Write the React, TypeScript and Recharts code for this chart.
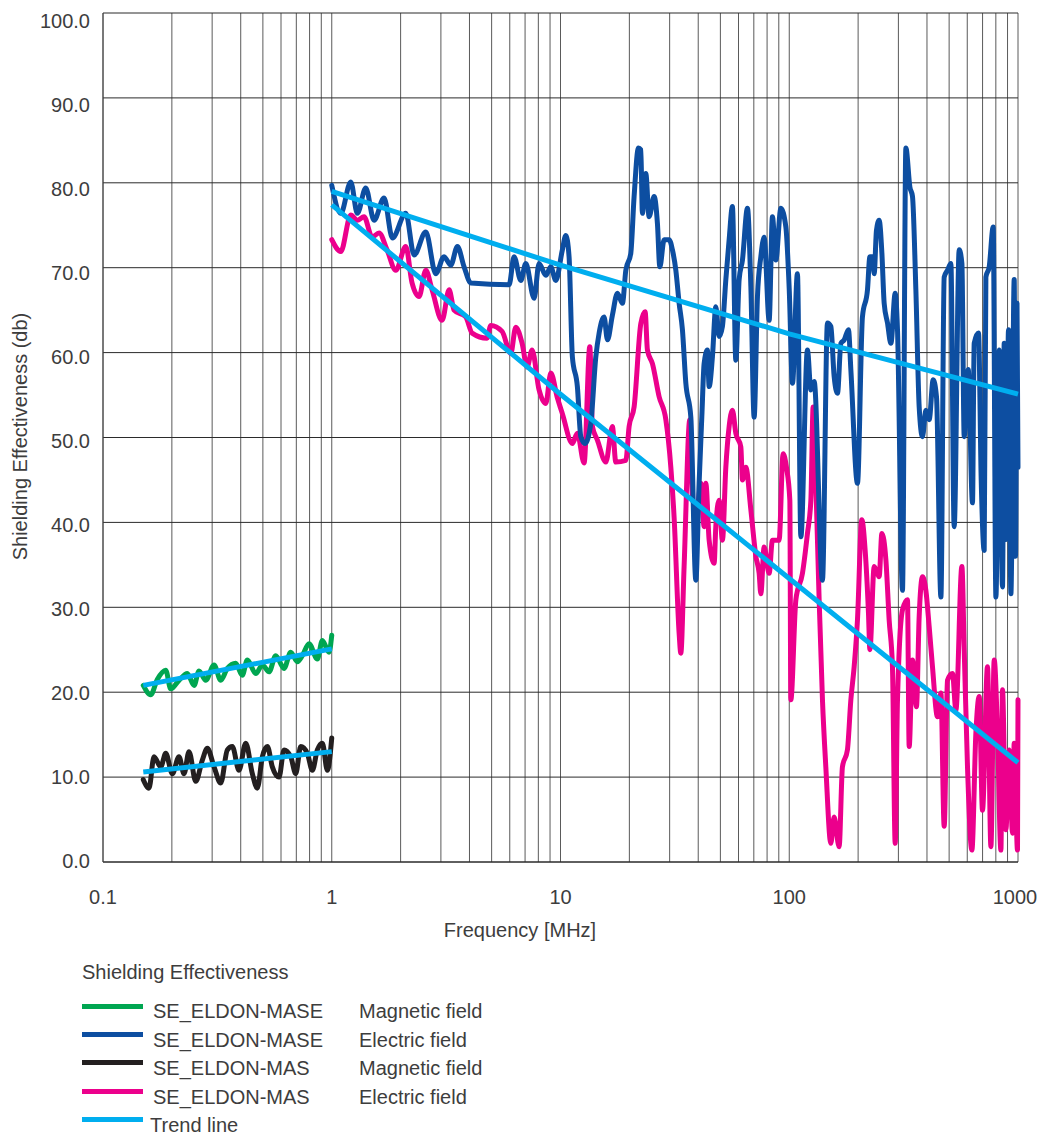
import React, { useLayoutEffect } from 'react';
import { LineChart, Line, XAxis, YAxis, CartesianGrid } from 'recharts';

const FONT = '"Liberation Sans", Arial, Helvetica, sans-serif';
const TEXT = '#3d3d3d';
const GREEN = '#00a651';
const BLUE = '#0d4ea1';
const BLACK = '#231f20';
const MAGENTA = '#ec008c';
const TREND = '#00aeef';

// Axis ticks
const xTicks = [0.1, 0.2, 0.3, 0.4, 0.5, 0.6, 0.7, 0.8, 0.9, 1, 2, 3, 4, 5, 6, 7, 8, 9, 10, 20, 30, 40, 50, 60, 70, 80, 90, 100, 200, 300, 400, 500, 600, 700, 800, 900, 1000];
const xLabelled = [0.1, 1, 10, 100, 1000];
const xLabelText = ['0.1', '1', '10', '100', '1000'];
const yTicks = [0, 10, 20, 30, 40, 50, 60, 70, 80, 90, 100];

// SE_ELDON-MASE, magnetic field
const maseMagF = [0.15, 0.1616, 0.1727, 0.188, 0.1977, 0.2149, 0.2337, 0.25, 0.2629, 0.2812, 0.3058, 0.3271, 0.3495, 0.3804, 0.4065, 0.4276, 0.4653, 0.4973, 0.532, 0.5691, 0.6185, 0.6617, 0.7071, 0.7438, 0.7958, 0.865, 0.9097, 0.973, 1.0];
const maseMagSE = [20.8, 19.7, 21.5, 22.6, 20.4, 21.4, 22.2, 20.8, 22.5, 21.4, 23.2, 21.4, 22.8, 23.4, 22.0, 23.8, 22.2, 23.2, 22.4, 24.3, 22.8, 24.7, 23.6, 24.3, 25.7, 23.9, 26.1, 24.7, 26.7];

// SE_ELDON-MAS, magnetic field
const masMagF = [0.15, 0.1589, 0.1671, 0.1788, 0.188, 0.2009, 0.2149, 0.2261, 0.2377, 0.2543, 0.2718, 0.2858, 0.3058, 0.3271, 0.3495, 0.3676, 0.3932, 0.4207, 0.4496, 0.4728, 0.4973, 0.5229, 0.5499, 0.5883, 0.6185, 0.6617, 0.6958, 0.7318, 0.7822, 0.8226, 0.865, 0.9097, 0.9568, 1.0];
const masMagSE = [9.7, 8.7, 12.4, 11.2, 12.8, 10.4, 12.4, 10.4, 13.0, 9.5, 12.0, 13.4, 11.2, 9.3, 13.2, 13.6, 10.8, 14.0, 10.4, 8.7, 12.4, 13.6, 11.2, 10.0, 13.2, 12.4, 10.4, 13.6, 12.8, 10.8, 13.2, 14.0, 10.8, 14.6];

// SE_ELDON-MASE, electric field
const maseElF = [1.0, 1.095, 1.211, 1.294, 1.408, 1.531, 1.693, 1.841, 2.107, 2.291, 2.577, 2.849, 3.097, 3.314, 3.541, 3.789, 4.054, 5.961, 6.268, 6.706, 7.052, 7.665, 8.06, 8.626, 9.07, 9.537,
  10.19, 10.55, 10.9, 11.27, 11.85, 12.27, 12.81, 13.57, 14.27, 14.75, 15.51, 16.04, 16.86, 17.74, 18.65, 19.3, 20.29, 20.98, 21.91, 22.44, 22.81, 23.6, 24.4, 25.66, 26.53, 27.18, 28.38, 29.85, 30.85, 31.93, 33.01, 34.12, 35.31, 37.13, 39.05, 40.36, 41.47, 42.45, 43.88, 44.65, 46.15, 47.75, 49.37, 51.04, 52.82, 54.6, 56.44, 58.41, 60.39, 62.43, 65.65, 67.94, 70.23, 72.61, 75.13, 77.67, 81.68, 84.44, 87.38, 91.9, 96.63,
  100, 103.3, 108.6, 112.4, 120.1, 124.3, 128.5, 139.7, 146.9, 152.0, 157.1, 162.5, 168.2, 173.9, 181.5, 185.9, 198.7, 208.9, 219.8, 225.2, 231.1, 235.1, 240.6, 247.2, 254.1, 260.0, 268.8, 278.2, 290.5, 297.3, 312.6, 323.5, 336.8, 345.7, 357.7, 369.8, 382.3, 395.6, 409.0, 425.8, 440.2, 460.2, 475.7, 491.7, 508.8, 526.0, 553.3, 568.5, 581.9, 605.8, 632.4, 643.4, 672.0, 690.5, 711.6, 723.8, 748.4, 779.1, 800.6, 827.6, 855.5, 870.4, 887.8, 908.8, 931.1, 962.5, 975, 990, 1000];
const maseElSE = [79.7, 76.4, 80.1, 76.4, 79.4, 75.6, 78.2, 73.5, 76.4, 71.5, 74.2, 69.3, 71.3, 70.3, 72.5, 70.1, 68.2, 68.0, 71.3, 68.5, 70.5, 66.4, 70.5, 69.1, 70.1, 68.5,
  72.1, 73.8, 71.3, 59.5, 56.0, 50.1, 49.3, 51.7, 59.5, 62.3, 64.2, 61.5, 64.4, 67.0, 65.8, 69.7, 71.7, 78.4, 84.1, 83.9, 76.4, 81.1, 76.0, 78.4, 75.2, 70.1, 73.3, 73.3, 72.1, 69.7, 65.8, 62.7, 56.4, 52.4, 33.2, 44.6, 52.4, 58.7, 60.3, 56.0, 59.5, 65.4, 61.9, 63.1, 68.6, 73.3, 77.2, 59.1, 68.6, 70.9, 77.0, 67.8, 52.4, 66.6, 71.3, 73.6, 63.8, 76.0, 70.9, 77.0, 74.8,
  67.4, 56.4, 69.3, 38.3, 60.3, 55.6, 56.6, 33.2, 63.5, 63.1, 57.2, 55.2, 61.1, 61.5, 62.7, 58.0, 44.6, 64.2, 67.4, 71.3, 71.3, 69.3, 74.4, 75.6, 71.7, 65.8, 63.5, 61.1, 67.0, 62.7, 32.0, 84.1, 79.5, 78.4, 67.4, 53.6, 50.1, 53.2, 52.1, 56.8, 54.8, 31.2, 68.9, 69.7, 70.5, 39.5, 72.1, 70.5, 50.1, 58.0, 42.3, 61.1, 62.3, 45.0, 36.7, 68.9, 70.1, 74.8, 31.2, 60.3, 32.4, 61.1, 38.0, 62.7, 31.6, 68.6, 36.0, 65.8, 46.5];

// SE_ELDON-MAS, electric field
const masElF = [1.0, 1.095, 1.211, 1.294, 1.384, 1.501, 1.61, 1.745, 1.905, 2.107, 2.244, 2.408, 2.577, 2.745, 3.036, 3.259, 3.426, 3.854, 4.106, 4.775, 4.957, 5.554, 6.062, 6.375, 6.794, 7.145, 7.513, 8.06, 8.626, 9.07, 9.663,
  10.19, 11.27, 11.85, 12.68, 13.43, 13.79, 14.5, 15.78, 16.86, 17.45, 19.3, 19.95, 20.98, 22.44, 23.44, 23.99, 25.23, 26.99, 28.87, 30.36, 31.38, 33.01, 33.57, 34.7, 36.76, 37.73, 39.68, 41.07, 42.45, 43.19, 44.65, 46.95, 47.75, 49.37, 51.04, 52.82, 54.6, 56.44, 58.41, 61.43, 62.43, 64.6, 67.94, 71.45, 73.85, 75.13, 77.67, 81.68, 84.44, 90.3, 94.0, 97.2,
  100.6, 101.6, 106.9, 114.2, 120.1, 124.3, 127.2, 130.7, 135.1, 139.7, 144.5, 152.0, 157.1, 165.2, 170.8, 179.6, 185.9, 192.2, 198.7, 207.6, 214.7, 222.0, 225.2, 235.1, 247.2, 254.1, 264.5, 273.4, 282.6, 290.5, 297.3, 312.6, 328.7, 334.4, 345.7, 359.8, 369.8, 382.3, 395.6, 409.0, 422.8, 444.6, 460.2, 475.7, 491.7, 517.1, 535.2, 568.5, 581.9, 601.5, 628.6, 654.5, 676.6, 699.5, 735.6, 761.3, 787.0, 813.7, 842.0, 855.5, 885.2, 915.3, 946.2, 962.5, 995, 1000];
const masElSE = [73.3, 71.9, 76.2, 75.6, 76.0, 73.6, 74.1, 72.1, 69.7, 72.5, 68.2, 66.6, 69.7, 67.4, 63.8, 67.4, 65.0, 64.2, 62.3, 61.7, 63.2, 62.5, 59.9, 63.0, 61.1, 58.3, 60.3, 55.6, 54.0, 57.6, 54.8,
  52.8, 49.3, 50.5, 47.0, 60.7, 51.3, 49.7, 47.1, 51.3, 47.1, 47.3, 51.3, 53.6, 63.4, 64.8, 60.3, 58.7, 54.8, 52.1, 46.5, 40.6, 26.9, 24.6, 34.8, 52.1, 42.6, 41.9, 44.6, 39.5, 44.6, 37.9, 35.2, 39.5, 42.6, 37.9, 46.5, 51.3, 53.2, 50.5, 48.9, 45.0, 46.5, 41.5, 36.0, 34.0, 31.6, 37.1, 34.0, 37.9, 37.9, 48.1, 46.5,
  42.6, 19.1, 30.9, 34.0, 38.7, 42.6, 53.6, 44.6, 30.9, 19.1, 11.2, 2.2, 5.3, 1.8, 11.2, 13.2, 19.1, 23.0, 28.5, 40.3, 36.7, 29.3, 25.0, 34.8, 33.6, 38.7, 35.6, 28.5, 23.0, 2.2, 19.1, 29.7, 30.9, 13.6, 23.8, 18.3, 28.9, 33.6, 32.0, 27.7, 23.0, 17.1, 19.9, 4.2, 21.4, 22.2, 17.9, 34.8, 25.0, 11.2, 1.4, 15.2, 19.5, 6.1, 23.0, 1.8, 23.8, 15.2, 1.4, 20.3, 3.8, 13.2, 3.4, 14.0, 1.4, 19.1];

// Trend lines
const trendMaseMagF = [0.15, 1];
const trendMaseMagSE = [20.8, 25.1];
const trendMasMagF = [0.15, 1];
const trendMasMagSE = [10.6, 13.0];
const trendMaseElF = [1, 10, 100, 1000];
const trendMaseElSE = [79.0, 70.3, 62.2, 55.1];
const trendMasElF = [1, 10, 100, 1000];
const trendMasElSE = [77.4, 55.1, 33.4, 11.7];

// Legend
const legendTitle = 'Shielding Effectiveness';
const legendNames = ['SE_ELDON-MASE', 'SE_ELDON-MASE', 'SE_ELDON-MAS', 'SE_ELDON-MAS', 'Trend line'];
const legendFields = ['Magnetic field', 'Electric field', 'Magnetic field', 'Electric field', ''];
const legendColors = [GREEN, BLUE, BLACK, MAGENTA, TREND];

const zip = (f: number[], se: number[]) => f.map((v, i) => ({ f: v, se: se[i] }));

const dataSeries = [
  { id: 'masEl', data: zip(masElF, masElSE), color: MAGENTA },
  { id: 'maseEl', data: zip(maseElF, maseElSE), color: BLUE },
  { id: 'masMag', data: zip(masMagF, masMagSE), color: BLACK },
  { id: 'maseMag', data: zip(maseMagF, maseMagSE), color: GREEN },
];
const trendSeries = [
  { id: 'tMaseMag', data: zip(trendMaseMagF, trendMaseMagSE) },
  { id: 'tMasMag', data: zip(trendMasMagF, trendMasMagSE) },
  { id: 'tMaseEl', data: zip(trendMaseElF, trendMaseElSE) },
  { id: 'tMasEl', data: zip(trendMasElF, trendMasElSE) },
];

const XTick = (props: any) => {
  const { x, y, payload } = props;
  const v = Number(payload.value);
  const i = xLabelled.findIndex((t) => Math.abs(t - v) < 1e-9);
  if (i < 0) return <g />;
  const dx = i === xLabelled.length - 1 ? -3 : 0;
  return (
    <text x={x + dx} y={y} dy="0.71em" textAnchor="middle" fill={TEXT} fontSize={20} fontFamily={FONT}>
      {xLabelText[i]}
    </text>
  );
};

const YTick = (props: any) => {
  const { x, y, payload } = props;
  const v = Number(payload.value);
  const shift = -1.5 + v * 0.093;
  return (
    <text x={x} y={y + shift} dy="0.355em" textAnchor="end" fill={TEXT} fontSize={20} fontFamily={FONT}>
      {v.toFixed(1)}
    </text>
  );
};

const XTitle = () => (
  <text x={512} y={929} textAnchor="middle" fill={TEXT} fontSize={20} fontFamily={FONT}>
    Frequency [MHz]
  </text>
);

const YTitle = () => (
  <text x={12} y={428.5} dy="0.355em" textAnchor="middle" transform="rotate(-90, 12, 428.5)" fill={TEXT} fontSize={20} fontFamily={FONT}>
    Shielding Effectiveness (db)
  </text>
);

const textStyle: React.CSSProperties = {
  position: 'absolute',
  fontSize: 20,
  lineHeight: '18px',
  whiteSpace: 'nowrap',
};

export default function App() {
  useLayoutEffect(() => {
    document.documentElement.style.overflow = 'hidden';
    document.body.style.overflow = 'hidden';
  }, []);
  return (
    <div style={{ position: 'relative', width: 1029, height: 1127, fontFamily: FONT, color: TEXT }}>
      <LineChart width={1037} height={950} margin={{ top: 5, right: 27, bottom: 0, left: 0 }}>
        <CartesianGrid horizontal={false} stroke="#5a5a5a" strokeWidth={1} />
        <CartesianGrid vertical={false} stroke="#2b2b2b" strokeWidth={1} />
        <XAxis
          type="number"
          dataKey="f"
          scale="log"
          domain={[0.1, 1000]}
          ticks={xTicks}
          interval={0}
          tickLine={false}
          tickSize={0}
          tickMargin={28}
          height={96}
          axisLine={{ stroke: '#2b2b2b' }}
          tick={<XTick />}
          label={<XTitle />}
        />
        <YAxis
          type="number"
          domain={[0, 100]}
          ticks={yTicks}
          interval={0}
          width={95}
          tickLine={false}
          tickSize={0}
          tickMargin={13}
          axisLine={{ stroke: '#444' }}
          tick={<YTick />}
          label={<YTitle />}
        />
        {dataSeries.map((s) => (
          <Line
            key={s.id}
            data={s.data}
            dataKey="se"
            type="monotone"
            stroke={s.color}
            strokeWidth={5}
            strokeLinejoin="round"
            strokeLinecap="round"
            dot={false}
            activeDot={false}
            isAnimationActive={false}
          />
        ))}
        {trendSeries.map((s) => (
          <Line
            key={s.id}
            data={s.data}
            dataKey="se"
            type="linear"
            stroke={TREND}
            strokeWidth={5}
            dot={false}
            activeDot={false}
            isAnimationActive={false}
          />
        ))}
      </LineChart>
      <div style={{ ...textStyle, left: 74, top: 972 - 8.8 - 8 }}>{legendTitle}</div>
      {legendNames.map((name, i) => (
        <React.Fragment key={i}>
          <div
            style={{
              position: 'absolute',
              left: 74,
              top: 1006.7 + i * 28.1 - 2.5 - 8,
              width: 61,
              height: 5,
              background: legendColors[i],
            }}
          />
          <div style={{ ...textStyle, left: i === 4 ? 142 : 145, top: 1010.8 + i * 28.5 - 8.8 - 8 }}>{name}</div>
          {legendFields[i] ? (
            <div style={{ ...textStyle, left: 351, top: 1010.8 + i * 28.5 - 8.8 - 8 }}>{legendFields[i]}</div>
          ) : null}
        </React.Fragment>
      ))}
    </div>
  );
}
